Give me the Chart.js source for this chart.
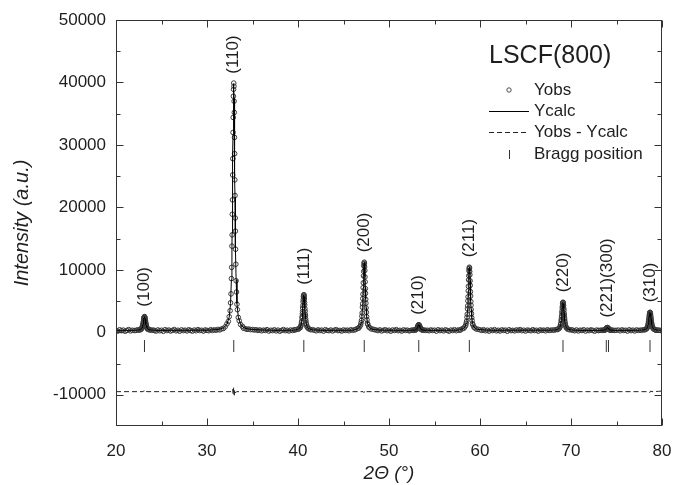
<!DOCTYPE html>
<html>
<head>
<meta charset="utf-8">
<script src="https://cdn.jsdelivr.net/npm/chart.js@4.4.0/dist/chart.umd.min.js"></script>
<style>
  html, body { margin: 0; padding: 0; background: #fff; }
  #wrap { width: 674px; height: 485px; }
</style>
</head>
<body>
<div id="wrap"><canvas id="xrd" width="674" height="485"></canvas></div>
<script>
// sample name and axis ticks
var sampleName = 'LSCF(800)';
var angleTicks = [20, 30, 40, 50, 60, 70, 80];
var intensityTicks = [-10000, 0, 10000, 20000, 30000, 40000, 50000];

// observed pattern [2theta, counts]
var yobs = [
  [20.0,320],[20.2,190],[20.4,410],[20.6,260],[20.8,350],[21.0,170],[21.2,300],[21.4,440],[21.6,230],[21.8,330],[22.0,280],
  // (100)
  [22.18,300],[22.38,410],[22.53,330],[22.63,460],[22.73,420],[22.78,590],[22.83,600],[22.87,780],[22.90,850],[22.93,1060],
  [22.95,1150],[22.97,1340],[22.99,1470],[23.01,1690],[23.03,1830],[23.05,2070],[23.07,2200],[23.09,2390],[23.11,2440],[23.13,2510],
  [23.15,2480],[23.17,2340],[23.19,2250],[23.21,2020],[23.23,1880],[23.25,1640],[23.27,1510],[23.29,1300],[23.31,1190],[23.33,1010],
  [23.36,900],[23.39,730],[23.43,660],[23.48,510],[23.53,500],[23.63,390],[23.73,420],[23.88,320],[24.08,360],
  [24.2,290],[24.4,200],[24.6,380],[24.8,250],[25.0,330],[25.2,160],[25.4,420],[25.6,280],[25.8,360],[26.0,210],
  [26.2,310],[26.4,450],[26.6,240],[26.8,330],[27.0,180],[27.2,390],[27.4,270],[27.6,340],[27.8,220],[28.0,410],
  [28.2,300],[28.4,190],[28.6,360],[28.8,250],[29.0,430],[29.2,280],[29.4,330],[29.6,200],[29.8,380],[30.0,310],
  [30.2,250],[30.4,420],[30.6,300],[30.8,390],[31.0,330],[31.2,460],[31.4,380],[31.6,540],[31.8,610],
  // (110)
  [31.99,880],[32.19,1340],[32.34,1740],[32.44,2500],[32.54,3450],[32.59,4720],[32.64,6150],[32.68,8600],[32.71,10400],[32.74,13800],
  [32.76,15600],[32.78,18900],[32.80,21200],[32.82,25200],[32.84,27800],[32.86,32000],[32.88,34400],[32.90,37800],[32.92,38900],[32.94,39900],
  [32.96,39400],[32.98,37000],[33.00,35200],[33.02,31200],[33.04,28600],[33.06,24400],[33.08,21900],[33.10,18300],[33.12,16200],[33.14,13300],
  [33.17,10900],[33.20,8250],[33.24,6450],[33.29,4500],[33.34,3620],[33.44,2380],[33.54,1850],[33.69,1250],[33.89,960],
  [34.0,660],[34.2,590],[34.4,470],[34.6,520],[34.8,420],[35.0,450],[35.2,370],[35.4,410],[35.6,300],[35.8,380],
  [36.0,240],[36.2,350],[36.4,290],[36.6,420],[36.8,200],[37.0,330],[37.2,270],[37.4,400],[37.6,230],[37.8,350],
  [38.0,180],[38.2,310],[38.4,440],[38.6,260],[38.8,340],[39.0,210],[39.2,370],[39.4,290],[39.6,420],
  // (111)
  [39.69,360],[39.89,480],[40.04,490],[40.14,640],[40.24,740],[40.29,950],[40.34,1130],[40.38,1510],[40.41,1760],[40.44,2250],
  [40.46,2520],[40.48,2980],[40.50,3330],[40.52,3890],[40.54,4290],[40.56,4870],[40.58,5240],[40.60,5700],[40.62,5870],[40.64,6020],
  [40.66,5950],[40.68,5610],[40.70,5320],[40.72,4780],[40.74,4370],[40.76,3800],[40.78,3410],[40.80,2900],[40.82,2590],[40.84,2180],
  [40.87,1820],[40.90,1440],[40.94,1200],[40.99,890],[41.04,790],[41.14,580],[41.24,540],[41.39,410],[41.59,420],
  [41.8,330],[42.0,240],[42.2,390],[42.4,280],[42.6,350],[42.8,190],[43.0,420],[43.2,300],[43.4,260],[43.6,370],
  [43.8,220],[44.0,340],[44.2,430],[44.4,270],[44.6,310],[44.8,200],[45.0,380],[45.2,290],[45.4,350],[45.6,240],
  [45.8,410],[46.0,320],[46.2,380],
  // (200)
  [46.33,450],[46.53,610],[46.68,680],[46.78,920],[46.88,1160],[46.93,1530],[46.98,1910],[47.02,2590],[47.05,3100],[47.08,4020],
  [47.10,4560],[47.12,5400],[47.14,6110],[47.16,7140],[47.18,7930],[47.20,9030],[47.22,9750],[47.24,10620],[47.26,10950],[47.28,11230],
  [47.30,11080],[47.32,10480],[47.34,9900],[47.36,8870],[47.38,8080],[47.40,7000],[47.42,6240],[47.44,5290],[47.46,4660],[47.48,3910],
  [47.51,3210],[47.54,2500],[47.58,2000],[47.63,1450],[47.68,1230],[47.78,860],[47.88,740],[48.03,550],[48.23,500],
  [48.4,420],[48.6,360],[48.8,270],[49.0,390],[49.2,220],[49.4,330],[49.6,410],[49.8,250],[50.0,340],[50.2,180],
  [50.4,370],[50.6,290],[50.8,430],[51.0,260],[51.2,320],[51.4,200],[51.6,390],[51.8,300],[52.0,350],[52.2,240],
  // (210)
  [52.32,280],[52.52,360],[52.67,310],[52.77,390],[52.87,340],[52.92,430],[52.97,410],[53.01,510],[53.04,520],[53.07,620],
  [53.09,640],[53.11,730],[53.13,770],[53.15,880],[53.17,920],[53.19,1030],[53.21,1070],[53.23,1160],[53.25,1170],[53.27,1210],
  [53.29,1190],[53.31,1130],[53.33,1100],[53.35,1000],[53.37,950],[53.39,840],[53.41,800],[53.43,700],[53.45,670],[53.47,590],
  [53.50,550],[53.53,470],[53.57,450],[53.62,380],[53.67,390],[53.77,330],[53.87,360],[54.02,300],[54.22,330],
  [54.4,250],[54.6,380],[54.8,290],[55.0,340],[55.2,190],[55.4,410],[55.6,270],[55.8,350],[56.0,230],[56.2,400],
  [56.4,300],[56.6,180],[56.8,360],[57.0,280],[57.2,420],[57.4,250],[57.6,370],[57.8,330],
  // (211)
  [57.88,430],[58.08,590],[58.23,650],[58.33,880],[58.43,1090],[58.48,1440],[58.53,1790],[58.57,2420],[58.60,2900],[58.63,3750],
  [58.65,4240],[58.67,5030],[58.69,5680],[58.71,6640],[58.73,7370],[58.75,8390],[58.77,9050],[58.79,9860],[58.81,10170],[58.83,10420],
  [58.85,10290],[58.87,9730],[58.89,9200],[58.91,8240],[58.93,7510],[58.95,6500],[58.97,5810],[58.99,4920],[59.01,4340],[59.03,3640],
  [59.06,2990],[59.09,2340],[59.13,1870],[59.18,1370],[59.23,1160],[59.33,820],[59.43,710],[59.58,530],[59.78,490],
  [60.0,390],[60.2,300],[60.4,420],[60.6,250],[60.8,340],[61.0,190],[61.2,370],[61.4,280],[61.6,430],[61.8,240],
  [62.0,330],[62.2,210],[62.4,390],[62.6,300],[62.8,350],[63.0,170],[63.2,410],[63.4,270],[63.6,320],[63.8,230],
  [64.0,380],[64.2,290],[64.4,440],[64.6,260],[64.8,340],[65.0,200],[65.2,360],[65.4,310],[65.6,250],[65.8,420],
  [66.0,280],[66.2,330],[66.4,190],[66.6,380],[66.8,300],[67.0,350],[67.2,240],[67.4,410],[67.6,290],[67.8,340],[68.0,370],
  // (220)
  [68.17,340],[68.37,450],[68.52,440],[68.62,570],[68.72,640],[68.77,820],[68.82,950],[68.86,1260],[68.89,1450],[68.92,1840],
  [68.94,2050],[68.96,2420],[68.98,2690],[69.00,3130],[69.02,3450],[69.04,3910],[69.06,4190],[69.08,4570],[69.10,4700],[69.12,4820],
  [69.14,4750],[69.16,4490],[69.18,4270],[69.20,3830],[69.22,3520],[69.24,3060],[69.26,2760],[69.28,2350],[69.30,2110],[69.32,1780],
  [69.35,1510],[69.38,1200],[69.42,1010],[69.47,770],[69.52,690],[69.62,520],[69.72,500],[69.87,390],[70.07,400],
  [70.2,330],[70.4,250],[70.6,380],[70.8,220],[71.0,340],[71.2,290],[71.4,410],[71.6,200],[71.8,350],[72.0,270],
  [72.2,390],[72.4,310],[72.6,180],[72.8,360],[73.0,300],
  // (221)(300)
  [73.05,280],[73.25,340],[73.40,300],[73.50,350],[73.60,310],[73.65,370],[73.70,350],[73.74,410],[73.77,400],[73.80,470],
  [73.82,460],[73.84,520],[73.86,530],[73.88,590],[73.90,600],[73.92,670],[73.94,680],[73.96,730],[73.98,740],[74.00,755],
  [74.02,745],[74.04,715],[74.06,700],[74.08,650],[74.10,625],[74.12,570],[74.14,550],[74.16,500],[74.18,485],[74.20,445],
  [74.23,425],[74.26,385],[74.30,380],[74.35,340],[74.40,350],[74.50,310],[74.60,330],[74.75,300],[74.95,320],
  [75.2,360],[75.4,240],[75.6,390],[75.8,290],[76.0,330],[76.2,200],[76.4,410],[76.6,270],[76.8,350],[77.0,220],
  [77.2,380],[77.4,300],[77.6,340],
  // (310)
  [77.73,320],[77.93,400],[78.08,380],[78.18,480],[78.28,520],[78.33,640],[78.38,720],[78.42,920],[78.45,1040],[78.48,1300],
  [78.50,1420],[78.52,1670],[78.54,1840],[78.56,2130],[78.58,2320],[78.60,2630],[78.62,2800],[78.64,3050],[78.66,3130],[78.68,3210],
  [78.70,3170],[78.72,3000],[78.74,2860],[78.76,2570],[78.78,2380],[78.80,2080],[78.82,1890],[78.84,1620],[78.86,1470],[78.88,1250],
  [78.91,1080],[78.94,880],[78.98,760],[79.03,600],[79.08,550],[79.18,440],[79.28,430],[79.43,360],[79.63,370],
  [79.8,290],[80.0,340]
];

// calculated profile [2theta, counts]
var ycalc = [
  [20.0,310],[22.0,320],
  [22.18,335],[22.38,355],[22.63,419],[22.78,540],[22.87,753],[22.93,1039],[22.97,1319],[23.01,1666],[23.05,2045],[23.09,2368],
  [23.13,2500],[23.17,2368],[23.21,2045],[23.25,1666],[23.29,1319],[23.33,1039],[23.39,753],[23.48,540],[23.63,419],[23.88,355],[24.08,335],
  [24.5,312],[30.0,340],[31.0,420],[31.5,560],[31.8,700],
  [31.99,930],[32.19,1290],[32.44,2430],[32.59,4610],[32.68,8440],[32.74,13570],[32.76,15900],[32.78,18590],[32.80,21590],[32.82,24830],
  [32.84,28230],[32.86,31620],[32.88,34820],[32.90,37430],[32.92,39170],[32.94,39800],[32.96,39170],[32.98,37430],[33.00,34820],[33.02,31620],
  [33.04,28230],[33.06,24830],[33.08,21590],[33.10,18590],[33.12,15900],[33.14,13570],[33.20,8440],[33.29,4610],[33.44,2430],[33.69,1290],[33.89,930],
  [34.1,700],[34.5,540],[35.0,450],[36.0,370],[37.0,330],[38.0,315],[39.5,340],
  [39.69,391],[39.89,443],[40.14,608],[40.29,921],[40.38,1474],[40.44,2215],[40.48,2939],[40.52,3840],[40.56,4820],[40.60,5658],
  [40.64,6000],[40.68,5658],[40.72,4820],[40.76,3840],[40.80,2939],[40.84,2215],[40.90,1474],[40.99,921],[41.14,608],[41.39,443],[41.59,391],
  [41.8,380],[42.5,320],[46.0,330],
  [46.33,474],[46.53,573],[46.78,889],[46.93,1488],[47.02,2545],[47.08,3962],[47.12,5347],[47.16,7069],[47.20,8944],[47.24,10546],
  [47.28,11200],[47.32,10546],[47.36,8944],[47.40,7069],[47.44,5347],[47.48,3962],[47.54,2545],[47.63,1488],[47.78,889],[48.03,573],[48.23,474],
  [48.4,440],[49.0,350],[52.0,310],
  [52.32,314],[52.52,323],[52.77,349],[52.92,398],[53.01,485],[53.07,602],[53.11,717],[53.15,859],[53.19,1014],[53.23,1146],
  [53.27,1200],[53.31,1146],[53.35,1014],[53.39,859],[53.43,717],[53.47,602],[53.53,485],[53.62,398],[53.77,349],[54.02,323],[54.22,314],
  [54.4,310],[57.6,340],
  [57.88,462],[58.08,553],[58.33,845],[58.48,1401],[58.57,2381],[58.63,3694],[58.67,4976],[58.71,6572],[58.75,8309],[58.79,9794],
  [58.83,10400],[58.87,9794],[58.91,8309],[58.95,6572],[58.99,4976],[59.03,3694],[59.09,2381],[59.18,1401],[59.33,845],[59.58,553],[59.78,462],
  [60.0,420],[61.0,330],[68.0,340],
  [68.17,372],[68.37,413],[68.62,543],[68.77,791],[68.86,1227],[68.92,1812],[68.96,2384],[69.00,3095],[69.04,3869],[69.08,4530],
  [69.12,4800],[69.16,4530],[69.20,3869],[69.24,3095],[69.28,2384],[69.32,1812],[69.38,1227],[69.47,791],[69.62,543],[69.87,413],[70.07,372],
  [70.3,350],[71.0,310],[72.8,305],
  [73.05,307],[73.25,311],[73.50,324],[73.65,349],[73.74,393],[73.80,451],[73.84,508],[73.88,579],[73.92,657],[73.96,723],
  [74.00,750],[74.04,723],[74.08,657],[74.12,579],[74.16,508],[74.20,451],[74.26,393],[74.35,349],[74.50,324],[74.75,311],[74.95,307],
  [75.2,305],[77.5,330],
  [77.73,346],[77.93,373],[78.18,457],[78.33,616],[78.42,897],[78.48,1274],[78.52,1643],[78.56,2101],[78.60,2600],[78.64,3026],
  [78.68,3200],[78.72,3026],[78.76,2600],[78.80,2101],[78.84,1643],[78.88,1274],[78.94,897],[79.03,616],[79.18,457],[79.43,373],[79.63,346],
  [79.8,335],[80.0,325]
];

// difference curve, shifted down [2theta, counts]
var ydiff = [
  [20.00,-9500],[23.00,-9500],[23.08,-9350],[23.16,-9600],[23.25,-9450],[23.40,-9500],
  [32.70,-9500],[32.82,-9100],[32.88,-10000],[32.93,-8800],[32.99,-10300],[33.05,-9200],[33.12,-9700],[33.25,-9500],
  [40.50,-9500],[40.60,-9350],[40.70,-9600],[40.85,-9500],
  [47.15,-9500],[47.25,-9650],[47.32,-9350],[47.45,-9500],
  [58.70,-9500],[58.78,-9250],[58.86,-9650],[58.98,-9450],
  [69.00,-9500],[69.10,-9300],[69.20,-9550],[69.35,-9500],
  [78.55,-9500],[78.65,-9650],[78.75,-9400],[78.90,-9500],[79.60,-9450],[80.00,-9400]
];

// Bragg reflections
var braggPos = [23.13, 32.94, 40.64, 47.28, 53.27, 58.83, 69.12, 73.88, 74.12, 78.68];
var braggLevel = -2200;

// peak indexing
var hklNames = ['(100)', '(110)', '(111)', '(200)', '(210)', '(211)', '(220)', '(221)(300)', '(310)'];
var hklPos = [23.13, 32.94, 40.64, 47.28, 53.27, 58.83, 69.12, 74.00, 78.68];
var hklTop = [2500, 39800, 6000, 11200, 1200, 10400, 4800, 750, 3200];

var FONT = "'Liberation Sans', Arial, sans-serif";
var INK = '#1e1e1e';

function toPoints(arr) {
    return arr.map(function (p) { return {x: p[0], y: p[1]}; });
}

/**
 * Frame with inward ticks, hkl labels and the legend box.
 */
var xrdDecor = {
    id: 'xrdDecor',
    afterDatasetsDraw: function (chart) {
        var ctx = chart.ctx;
        var area = chart.chartArea;
        var xs = chart.scales.x;
        var ys = chart.scales.y;
        var L = area.left + 0.5, R = area.right - 0.5, T = area.top + 0.5, B = area.bottom - 0.5;

        ctx.save();
        ctx.strokeStyle = '#333';
        ctx.lineWidth = 1;
        ctx.strokeRect(L, T, R - L, B - T);

        // ticks on all four sides, pointing in
        ctx.beginPath();
        var xv = xs.ticks.map(function (t) { return t.value; });
        xv.forEach(function (v, i) {
            var px = Math.round(xs.getPixelForValue(v)) + 0.5;
            ctx.moveTo(px, B); ctx.lineTo(px, B - 7);
            ctx.moveTo(px, T); ctx.lineTo(px, T + 7);
            if (i < xv.length - 1) {
                var mx = Math.round(xs.getPixelForValue((v + xv[i + 1]) / 2)) + 0.5;
                ctx.moveTo(mx, B); ctx.lineTo(mx, B - 4);
                ctx.moveTo(mx, T); ctx.lineTo(mx, T + 4);
            }
        });
        var yv = ys.ticks.map(function (t) { return t.value; });
        yv.forEach(function (v, i) {
            var py = Math.round(ys.getPixelForValue(v)) + 0.5;
            ctx.moveTo(L, py); ctx.lineTo(L + 7, py);
            ctx.moveTo(R, py); ctx.lineTo(R - 7, py);
            if (i < yv.length - 1) {
                var my = Math.round(ys.getPixelForValue((v + yv[i + 1]) / 2)) + 0.5;
                ctx.moveTo(L, my); ctx.lineTo(L + 4, my);
                ctx.moveTo(R, my); ctx.lineTo(R - 4, my);
            }
        });
        ctx.stroke();

        // hkl labels, vertical above each peak
        ctx.fillStyle = INK;
        ctx.font = '17px ' + FONT;
        ctx.textAlign = 'left';
        ctx.textBaseline = 'middle';
        hklNames.forEach(function (name, i) {
            var px = xs.getPixelForValue(hklPos[i]);
            var py = ys.getPixelForValue(hklTop[i]) - 10;
            ctx.save();
            ctx.translate(px, py);
            ctx.rotate(-Math.PI / 2);
            ctx.fillText(name, 0, 0);
            ctx.restore();
        });

        // legend box
        var ds = chart.data.datasets;
        var x0 = area.right - 173;
        ctx.font = '25px ' + FONT;
        ctx.fillText(sampleName, x0, area.top + 36);

        ctx.font = '17px ' + FONT;
        var sx = area.right - 153, tx = area.right - 128;
        var rows = [70, 91, 112, 134];
        var ry = rows.map(function (r) { return area.top + r; });

        // Yobs
        ctx.beginPath();
        ctx.lineWidth = 0.9;
        ctx.strokeStyle = ds[1].borderColor;
        ctx.arc(sx, ry[0], 2.2, 0, Math.PI * 2);
        ctx.stroke();
        ctx.fillText(ds[1].label, tx, ry[0]);

        // Ycalc
        ctx.beginPath();
        ctx.lineWidth = 1;
        ctx.strokeStyle = ds[0].borderColor;
        ctx.moveTo(sx - 20, ry[1] + 0.5); ctx.lineTo(sx + 20, ry[1] + 0.5);
        ctx.stroke();
        ctx.fillText(ds[0].label, tx, ry[1]);

        // difference
        ctx.beginPath();
        ctx.setLineDash(ds[2].borderDash);
        ctx.strokeStyle = ds[2].borderColor;
        ctx.moveTo(sx - 20, ry[2] + 0.5); ctx.lineTo(sx + 20, ry[2] + 0.5);
        ctx.stroke();
        ctx.setLineDash([]);
        ctx.fillText(ds[2].label, tx, ry[2]);

        // Bragg
        ctx.beginPath();
        ctx.strokeStyle = ds[3].borderColor;
        ctx.moveTo(sx + 0.5, ry[3] - 4); ctx.lineTo(sx + 0.5, ry[3] + 5);
        ctx.stroke();
        ctx.fillText(ds[3].label, tx, ry[3]);

        ctx.restore();
    }
};

var xrdChart = new Chart(document.getElementById('xrd'), {
    type: 'scatter',
    data: {
        datasets: [
            {
                label: 'Ycalc',
                data: toPoints(ycalc),
                showLine: true,
                borderColor: '#000',
                borderWidth: 1,
                pointRadius: 0,
                order: 1
            },
            {
                label: 'Yobs',
                data: toPoints(yobs),
                showLine: false,
                pointStyle: 'circle',
                pointRadius: 2.3,
                pointBorderWidth: 1,
                borderColor: '#3a3a3a',
                backgroundColor: 'rgba(0,0,0,0)',
                order: 2
            },
            {
                label: 'Yobs - Ycalc',
                data: toPoints(ydiff),
                showLine: true,
                borderColor: '#222',
                borderWidth: 1,
                borderDash: [5, 3],
                pointRadius: 0,
                order: 3
            },
            {
                label: 'Bragg position',
                data: braggPos.map(function (x) { return {x: x, y: braggLevel}; }),
                showLine: false,
                pointStyle: 'line',
                rotation: 90,
                pointRadius: 6,
                pointBorderWidth: 1,
                borderColor: '#333',
                order: 4
            }
        ]
    },
    options: {
        responsive: false,
        animation: false,
        devicePixelRatio: 1,
        layout: {padding: {top: 20, right: 12, left: 0, bottom: 0}},
        plugins: {
            legend: {display: false},
            tooltip: {enabled: false}
        },
        scales: {
            x: {
                type: 'linear',
                min: 20,
                max: 80,
                afterBuildTicks: function (scale) {
                    scale.ticks = angleTicks.map(function (v) { return {value: v}; });
                },
                afterFit: function (scale) {
                    scale.height = 59;
                    scale.paddingLeft = 0;
                    scale.paddingRight = 0;
                },
                grid: {display: false, drawTicks: false},
                border: {display: false},
                ticks: {
                    color: INK,
                    padding: 15,
                    font: {family: FONT, size: 17},
                    callback: function (v) { return String(v); }
                },
                title: {
                    display: true,
                    text: '2Θ (°)',
                    color: INK,
                    padding: {top: 0, bottom: 0},
                    font: {family: FONT, size: 19, style: 'italic'}
                }
            },
            y: {
                type: 'linear',
                min: -15000,
                max: 50000,
                afterBuildTicks: function (scale) {
                    scale.ticks = intensityTicks.map(function (v) { return {value: v}; });
                },
                afterFit: function (scale) {
                    scale.width = 116;
                    scale.paddingTop = 0;
                    scale.paddingBottom = 0;
                },
                grid: {display: false, drawTicks: false},
                border: {display: false},
                ticks: {
                    color: INK,
                    padding: 10,
                    font: {family: FONT, size: 17},
                    callback: function (v) { return String(v); }
                },
                title: {
                    display: true,
                    text: 'Intensity (a.u.)',
                    color: INK,
                    padding: {top: 10, bottom: 0},
                    font: {family: FONT, size: 20, style: 'italic'}
                }
            }
        }
    },
    plugins: [xrdDecor]
});
</script>
</body>
</html>
